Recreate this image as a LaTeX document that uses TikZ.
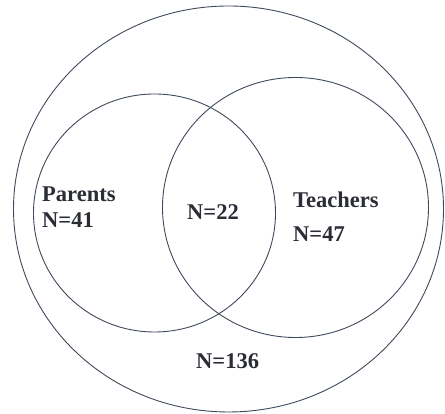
\documentclass[tikz,border=0pt]{standalone}
\usepackage{fontspec}
\setmainfont{Liberation Serif}
\definecolor{ringline}{HTML}{3E4A5C}
\definecolor{labeltext}{HTML}{2A2C36}
\begin{document}
\begin{tikzpicture}[x=1pt,y=1pt,
  ring/.style={draw=ringline, line width=0.9pt},
  count/.style={inner sep=0pt, anchor=base west, text=labeltext,
    font=\bfseries\fontsize{22.5}{25}\selectfont}]
  \useasboundingbox (0,0) rectangle (445,414);
  % whole sample
  \draw[ring] (228.5,205) ellipse [x radius=215, y radius=203];
  % the two groups
  \draw[ring] (154.5,201) ellipse [x radius=121, y radius=119];
  \draw[ring] (295.5,206.5) ellipse [x radius=133, y radius=130];
  % counts
  \node[count] (parents)  at (42,212.3)  {Parents};
  \node[count] (nparents) at (42,186)    {N=41};
  \node[count] (nboth)    at (187,194.7) {N=22};
  \node[count] (teachers) at (293,206.7) {Teachers};
  \node[count] (nteach)   at (293,172.3) {N=47};
  \node[count] (nrest)    at (196,45.7)  {N=136};
\end{tikzpicture}
\end{document}
